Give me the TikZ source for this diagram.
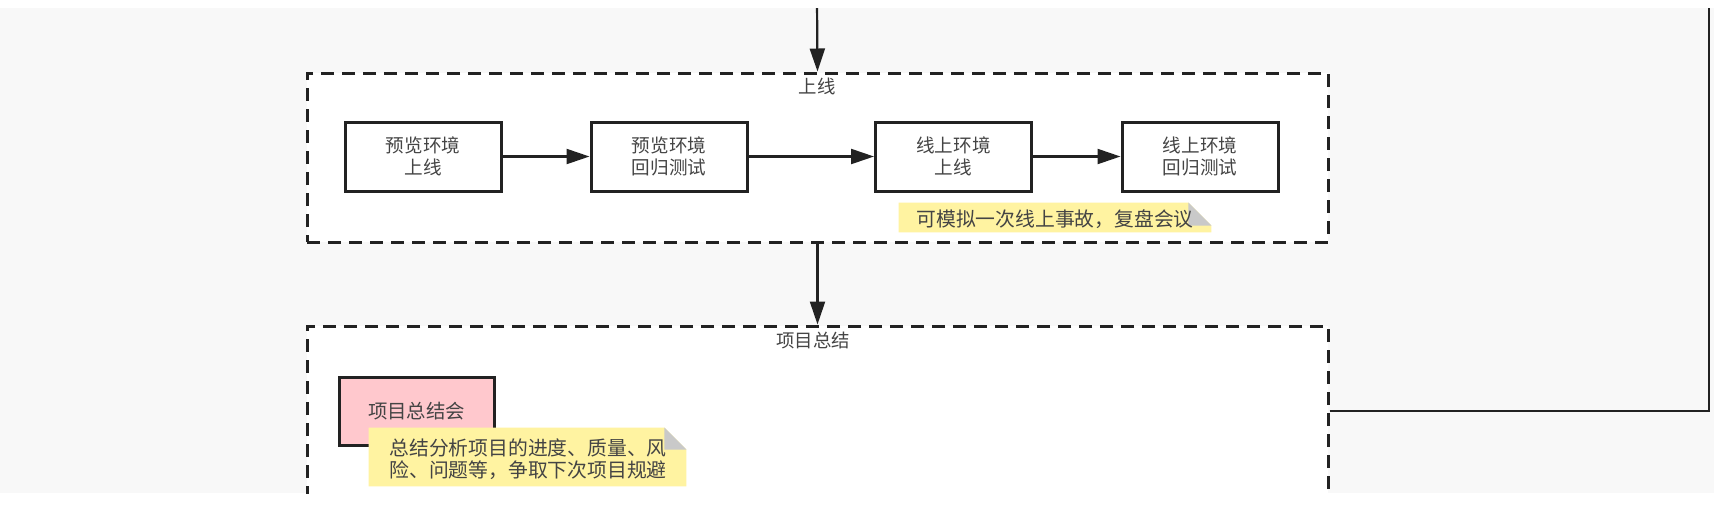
\documentclass[tikz,border=0pt]{standalone}
\usepackage{fontspec}
\setmainfont{Noto Sans CJK SC}
\usetikzlibrary{arrows.meta,calc}
\definecolor{bgcol}{HTML}{F8F8F8}
\definecolor{linecol}{HTML}{222222}
\definecolor{txtcol}{HTML}{444444}
\definecolor{noteyellow}{HTML}{FFF3A1}
\definecolor{foldgray}{HTML}{C9C9C9}
\definecolor{pinkfill}{HTML}{FFC8CD}
\tikzset{
  container/.style={draw=linecol, line width=1.5pt, dash pattern=on 6.5pt off 4pt, fill=white, minimum width=510.5pt},
  grouplabel/.style={text=txtcol, font=\fontsize{9.2}{10}\selectfont, inner sep=0pt},
  stepbox/.style={draw=linecol, line width=1.5pt, fill=white, minimum width=78pt, minimum height=34.5pt, align=center, text=txtcol, font=\fontsize{9.3}{11}\selectfont, inner sep=0pt},
  pinkbox/.style={stepbox, fill=pinkfill, minimum width=77.5pt, minimum height=34pt, font=\fontsize{9.7}{11}\selectfont},
  noteframe/.style={inner sep=0pt},
  notetext/.style={text=txtcol, font=\fontsize{9.9}{11}\selectfont, align=left, inner sep=0pt},
  flow/.style={draw=linecol, line width=1.1pt, -{Triangle[length=11.5pt,width=7.5pt]}},
  link/.style={draw=linecol, line width=1.1pt}
}
\begin{document}
\begin{tikzpicture}[x=0.5pt,y=-0.5pt]
\useasboundingbox (0,0) rectangle (1714,510);
\fill[white] (0,0) rectangle (1714,510);
\fill[bgcol] (0,8) rectangle (1714,493);
\begin{scope}
\clip (0,8) rectangle (1714,493);
% containers
\node[container, minimum height=84.5pt] (c1) at (817.5,157.5) {};
\node[container, minimum height=117pt] (c2) at (817.5,443) {};
\node[grouplabel] (l1) at (817,86) {上线};
\node[grouplabel] (l2) at (813,340) {项目总结};
% steps
\node[stepbox] (b1) at (423,156.5) {预览环境\\上线};
\node[stepbox] (b2) at (669,156.5) {预览环境\\回归测试};
\node[stepbox] (b3) at (953.5,156.5) {线上环境\\上线};
\node[stepbox] (b4) at (1200,156.5) {线上环境\\回归测试};
\path[flow] (b1) -- (b2);
\path[flow] (b2) -- (b3);
\path[flow] (b3) -- (b4);
% note 1
\node[noteframe, minimum width=156pt, minimum height=14.5pt] (n1) at (1055,217.5) {};
\fill[noteyellow] (n1.south west) -- (n1.north west) -- ($(n1.north east)+(-23,0)$) -- ($(n1.north east)+(0,23)$) -- (n1.south east) -- cycle;
\fill[foldgray] ($(n1.north east)+(-23,0)$) -- ($(n1.north east)+(0,23)$) -- ($(n1.north east)+(-23,23)$) -- cycle;
\node[notetext, anchor=west] (t1) at (916,219) {可模拟一次线上事故，复盘会议};
% project summary
\node[pinkbox] (pk) at (416.5,411) {项目总结会};
\node[noteframe, minimum width=158.5pt, minimum height=29pt] (n2) at (527.5,457) {};
\fill[noteyellow] (n2.south west) -- (n2.north west) -- ($(n2.north east)+(-22,0)$) -- ($(n2.north east)+(0,22)$) -- (n2.south east) -- cycle;
\fill[foldgray] ($(n2.north east)+(-22,0)$) -- ($(n2.north east)+(0,22)$) -- ($(n2.north east)+(-22,22)$) -- cycle;
\node[notetext, anchor=north west] (t2) at (389,438) {总结分析项目的进度、质量、风\\险、问题等，争取下次项目规避};
% connectors
\coordinate (topin) at (817,0);
\coordinate (topright) at (1709,0);
\path[flow] (topin) -- (c1.north);
\path[flow] (c1.south) -- (c2.north);
\path[link] (c2.east |- pk.center) -| (topright);
\end{scope}
\end{tikzpicture}
\end{document}
